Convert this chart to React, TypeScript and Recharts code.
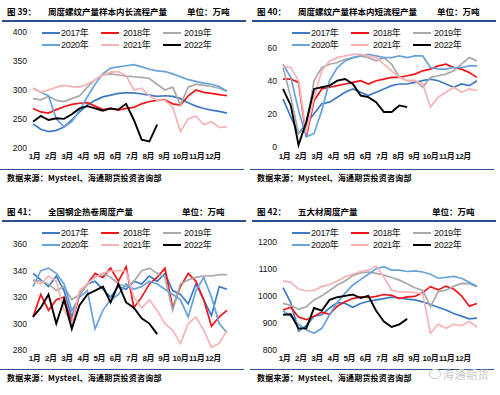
import React from 'react';
import { LineChart, Line, XAxis, YAxis } from 'recharts';

const years = ['2017年', '2018年', '2019年', '2020年', '2021年', '2022年'];
const months = ['1月', '2月', '3月', '4月', '5月', '6月', '7月', '8月', '9月', '10月', '11月', '12月'];
// week index where each month label sits
const monthWeeks = [0.4, 4.6, 8.8, 13, 17.1, 21.3, 25.5, 29.7, 33.8, 38, 42.2, 46.4];
const weeks = [0, 2, 4, 6, 8, 10, 12, 14, 16, 18, 20, 22, 24, 26, 28, 30, 32, 34, 36, 38, 40, 42, 44, 46, 48, 50];

// 图39 长流程
const long2017 = [241, 232, 228, 230, 236, 248, 262, 274, 282, 288, 291, 294, 295, 295, 293, 291, 289, 290, 289, 285, 278, 272, 268, 265, 263, 260];
const long2018 = [268, 262, 260, 266, 271, 275, 277, 278, 272, 266, 268, 265, 268, 270, 276, 280, 282, 283, 276, 274, 290, 300, 296, 294, 292, 290];
const long2019 = [285, 283, 289, 282, 280, 285, 290, 305, 318, 326, 328, 326, 324, 323, 322, 320, 310, 300, 305, 274, 305, 310, 308, 306, 303, 298];
const long2020 = [303, 296, 290, 250, 236, 245, 265, 288, 310, 328, 338, 340, 342, 344, 340, 336, 333, 332, 328, 323, 318, 315, 312, 310, 306, 298];
const long2021 = [303, 296, 300, 305, 308, 306, 305, 310, 318, 326, 331, 332, 325, 300, 303, 290, 282, 282, 270, 228, 250, 255, 240, 245, 235, 236];
const long2022 = [245, 255, 248, 251, 250, 258, 268, 272, 268, 264, 268, 266, 276, 248, 214, 211, 240];

// 图40 短流程
const short2017 = [29, 18, 8, 14, 20, 26, 27, 30, 33, 35, 33, 31, 33, 35, 37, 38, 38, 39, 40, 41, 40, 38, 36, 38, 37, 40];
const short2018 = [41, 41, 39, 6, 28, 35, 36, 37, 38, 39, 40, 38, 40, 41, 42, 42, 43, 44, 46, 47, 49, 50, 48, 47, 45, 42];
const short2019 = [48, 30, 8, 12, 40, 48, 50, 51, 53, 54, 55, 54, 52, 54, 50, 42, 40, 40, 36, 42, 43, 44, 46, 50, 54, 52];
const short2020 = [50, 42, 22, 6, 8, 22, 40, 48, 52, 54, 55, 56, 55, 54, 54, 55, 54, 55, 55, 48, 47, 47, 48, 48, 49, 49];
const short2021 = [49, 48, 40, 8, 30, 46, 52, 54, 55, 56, 56, 55, 54, 50, 46, 42, 40, 40, 38, 24, 30, 33, 36, 33, 35, 34];
const short2022 = [35, 25, 1, 15, 35, 36, 37, 40, 41, 38, 31, 30, 27, 21, 21, 25, 24];

// 图41 热卷
const coil2017 = [338, 333, 328, 336, 325, 305, 322, 330, 332, 326, 320, 328, 326, 332, 330, 336, 332, 338, 325, 322, 315, 330, 318, 306, 328, 326];
const coil2018 = [305, 322, 310, 318, 320, 300, 322, 330, 338, 335, 342, 332, 343, 312, 320, 330, 335, 342, 312, 328, 338, 332, 318, 298, 305, 310];
const coil2019 = [333, 332, 330, 325, 328, 318, 322, 330, 335, 338, 335, 330, 328, 332, 340, 342, 338, 335, 310, 330, 333, 335, 336, 336, 337, 337];
const coil2020 = [328, 340, 342, 338, 330, 310, 320, 325, 296, 310, 318, 322, 330, 326, 328, 332, 330, 326, 322, 318, 305, 325, 335, 320, 300, 293];
const coil2021 = [332, 330, 336, 332, 310, 300, 325, 330, 335, 338, 340, 340, 340, 320, 312, 318, 310, 300, 295, 285, 300, 305, 295, 282, 285, 295];
const coil2022 = [305, 312, 322, 300, 318, 296, 314, 322, 325, 328, 316, 330, 316, 312, 304, 300, 292];

// 图42 五大材
const five2017 = [1030, 975, 870, 890, 925, 930, 955, 975, 972, 958, 972, 980, 985, 990, 995, 992, 988, 985, 978, 968, 958, 948, 935, 925, 915, 918];
const five2018 = [948, 958, 922, 912, 925, 940, 932, 962, 978, 990, 996, 994, 998, 1005, 1002, 990, 996, 998, 1012, 1034, 1022, 1036, 1025, 1000, 962, 972];
const five2019 = [972, 965, 950, 960, 985, 1000, 1020, 1040, 1055, 1075, 1085, 1088, 1083, 1077, 1068, 1058, 1045, 1030, 1020, 960, 1015, 1021, 1035, 1046, 1045, 1034];
const five2020 = [945, 925, 895, 875, 862, 880, 930, 975, 1010, 1040, 1060, 1080, 1100, 1108, 1095, 1095, 1090, 1092, 1088, 1080, 1065, 1068, 1072, 1065, 1050, 1035];
const five2021 = [1055, 1050, 1025, 1018, 1020, 1035, 1042, 1055, 1070, 1080, 1090, 1095, 1110, 1070, 1020, 1015, 1015, 1012, 1008, 862, 895, 880, 895, 890, 905, 885];
const five2022 = [930, 932, 880, 880, 955, 945, 985, 995, 1000, 1005, 992, 1000, 945, 905, 885, 895, 915];

const colors = ['#3f7bc4', '#f0151b', '#a9a9a9', '#67a2dc', '#f7b2b4', '#000000'];
const keys = ['y2017', 'y2018', 'y2019', 'y2020', 'y2021', 'y2022'];

const FONT = "'Liberation Sans', Arial, 'Noto Sans CJK SC', sans-serif";
const CJK = "'Noto Sans CJK SC', sans-serif";
const RULE = '#2c4f8f';

const buildRows = (series: number[][]) =>
  weeks.map((w, i) => {
    const row: Record<string, number | undefined> = { week: w };
    series.forEach((s, k) => {
      row[keys[k]] = s[i];
    });
    return row;
  });

interface PanelProps {
  left: number;
  top: number;
  fig: string;
  title: string;
  unitX: number;
  series: number[][];
  domain: [number, number];
  ticks: number[];
  plotTop: number;
  plotBottom: number;
  tickGap: number;
}

const Panel: React.FC<PanelProps> = ({ left, top, fig, title, unitX, series, domain, ticks, plotTop, plotBottom, tickGap }) => {
  const rows = buildRows(series);
  const colX = [42, 101, 163];
  const textX = [61, 123, 184];
  const rowY = [33, 44.5];

  return (
    <div style={{ position: 'absolute', left, top, width: 250, height: 197 }}>
      {/* header */}
      <div style={{ position: 'absolute', left: 7, top: 5, fontFamily: CJK, fontSize: 8.5, fontWeight: 700, lineHeight: '12px' }}>{fig}</div>
      <div style={{ position: 'absolute', left: 48, top: 5, fontFamily: CJK, fontSize: 8.5, fontWeight: 700, lineHeight: '12px' }}>{title}</div>
      <div style={{ position: 'absolute', left: unitX, top: 5, fontFamily: CJK, fontSize: 8.5, fontWeight: 700, lineHeight: '12px' }}>单位：万吨</div>
      <div style={{ position: 'absolute', left: 2, top: 20, width: 244, height: 2, background: RULE }} />

      {/* legend */}
      {years.map((y, i) => {
        const c = i % 3;
        const r = Math.floor(i / 3);
        return (
          <React.Fragment key={y}>
            <div style={{ position: 'absolute', left: colX[c], top: rowY[r] - 1, width: 18, height: 2, background: colors[i] }} />
            <div style={{ position: 'absolute', left: textX[c], top: rowY[r] - 6, fontFamily: FONT, fontSize: 9, lineHeight: '12px', letterSpacing: -0.3, color: '#111' }}>{y}</div>
          </React.Fragment>
        );
      })}

      <div style={{ position: 'absolute', left: 0, top: 0 }}>
        <LineChart width={250} height={plotBottom + 22} data={rows} margin={{ top: plotTop, right: 23, bottom: 0, left: 0 }}>
          <XAxis
            dataKey="week"
            type="number"
            domain={[0, 50]}
            ticks={monthWeeks}
            interval={0}
            tickFormatter={(v: number) => months[monthWeeks.indexOf(v)]}
            axisLine={false}
            tickLine={false}
            tickSize={0}
            tickMargin={tickGap}
            height={22}
            tick={{ fontSize: 8, fontWeight: 700, fill: '#111', fontFamily: FONT, letterSpacing: -0.4 }}
          />
          <YAxis
            type="number"
            domain={domain}
            ticks={ticks}
            interval={0}
            width={33}
            axisLine={false}
            tickLine={false}
            tickSize={0}
            tickMargin={6}
            tick={{ fontSize: 8.5, fill: '#111', fontFamily: FONT }}
          />
          {keys.map((k, i) => (
            <Line
              key={k}
              dataKey={k}
              type="linear"
              stroke={colors[i]}
              strokeWidth={i === 5 ? 1.9 : 1.7}
              dot={false}
              isAnimationActive={false}
            />
          ))}
        </LineChart>
      </div>

      {/* footer */}
      <div style={{ position: 'absolute', left: 0, top: 168.5, width: 244, height: 1.5, background: RULE }} />
      <div style={{ position: 'absolute', left: 7, top: 172, fontFamily: CJK, fontSize: 8, fontWeight: 700, lineHeight: '11px', letterSpacing: 0.2 }}>数据来源：Mysteel、海通期货投资咨询部</div>
    </div>
  );
};

const App: React.FC = () => (
  <div style={{ position: 'absolute', left: 0, top: 0, width: 500, height: 395, background: '#fff', overflow: 'hidden' }}>
    <Panel left={0} top={0} fig="图 39：" title="周度螺纹产量样本内长流程产量" unitX={187}
      series={[long2017, long2018, long2019, long2020, long2021, long2022]}
      domain={[200, 400]} ticks={[200, 250, 300, 350, 400]} plotTop={32.3} plotBottom={147.7} tickGap={6} />
    <Panel left={250} top={0} fig="图 40：" title="周度螺纹产量样本内短流程产量" unitX={187}
      series={[short2017, short2018, short2019, short2020, short2021, short2022]}
      domain={[0, 60]} ticks={[0, 20, 40, 60]} plotTop={47.7} plotBottom={146.7} tickGap={7} />
    <Panel left={0} top={200} fig="图 41：" title="全国钢企热卷周度产量" unitX={182}
      series={[coil2017, coil2018, coil2019, coil2020, coil2021, coil2022]}
      domain={[280, 360]} ticks={[280, 300, 320, 340, 360]} plotTop={44.3} plotBottom={150} tickGap={5} />
    <Panel left={250} top={200} fig="图 42：" title="五大材周度产量" unitX={182}
      series={[five2017, five2018, five2019, five2020, five2021, five2022]}
      domain={[800, 1200]} ticks={[800, 900, 1000, 1100, 1200]} plotTop={41.7} plotBottom={150} tickGap={5} />
    <div style={{ position: 'absolute', left: 443, top: 366, fontFamily: CJK, fontSize: 11, color: '#c9c9c9', letterSpacing: 0.5 }}>海通期货</div>
    <div style={{ position: 'absolute', left: 429, top: 369, width: 10, height: 8, borderRadius: 5, border: '1px solid #c9c9c9' }} />
  </div>
);

export default App;
